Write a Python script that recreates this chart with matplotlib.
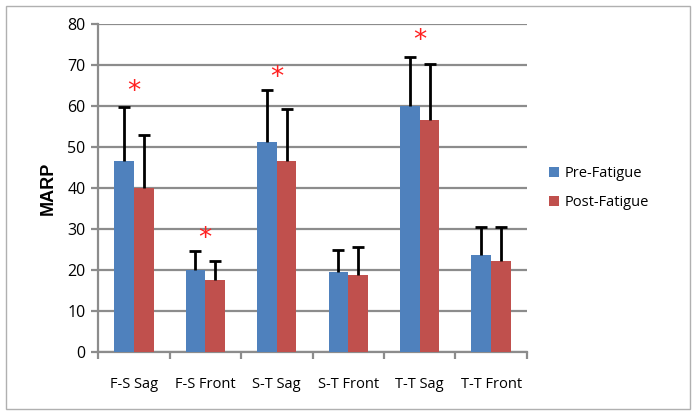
import numpy as np
import matplotlib.pyplot as plt
from matplotlib.patches import Rectangle

categories = ["F-S Sag", "F-S Front", "S-T Sag", "S-T Front", "T-T Sag", "T-T Front"]
pre_fatigue = [46.7, 20.0, 51.3, 19.5, 60.0, 23.7]
post_fatigue = [40.0, 17.5, 46.7, 18.8, 56.5, 22.3]
pre_err = [13.0, 4.7, 12.7, 5.5, 12.0, 6.8]
post_err = [13.0, 4.7, 12.6, 6.9, 13.8, 8.2]
# significance markers: (category index, height)
stars = [(0, 63.5), (1, 27.5), (2, 66.8), (4, 75.8)]

plt.rcParams['font.family'] = ['Open Sans', 'DejaVu Sans']

fig = plt.figure(figsize=(6.96, 4.17), dpi=100)
ax = fig.add_axes([0.141, 0.156, 0.616, 0.786])

x = np.arange(len(categories))
w = 0.275
grid_c = '#8c8c8c'

ax.bar(x - w / 2, pre_fatigue, w, color='#4F81BD', label='Pre-Fatigue', zorder=3)
ax.bar(x + w / 2, post_fatigue, w, color='#C0504D', label='Post-Fatigue', zorder=3)

# upper-only error bars with a cap at the top
for xs, vals, errs in [(x - w / 2, pre_fatigue, pre_err), (x + w / 2, post_fatigue, post_err)]:
    tops = np.array(vals) + np.array(errs)
    ax.vlines(xs, vals, tops, color='black', linewidth=2, zorder=4)
    ax.plot(xs, tops, linestyle='none', marker='_', markersize=8,
            markeredgewidth=2, color='black', zorder=4)

for i, h in stars:
    ax.text(i, h, '*', color='#ff2020', fontsize=19, ha='center', va='center',
            family='DejaVu Sans', zorder=5)

ax.set_xlim(-0.5, len(categories) - 0.5)
ax.set_ylim(0, 80)
ax.set_yticks(np.arange(0, 81, 10))
ax.yaxis.grid(True, color=grid_c, linewidth=1.6, zorder=0)
ax.set_axisbelow(True)

ax.set_xticks(x)
ax.set_xticklabels(categories, fontsize=10.5)
ax.tick_params(axis='x', length=0, pad=18)
ax.set_xticks(np.arange(-0.5, len(categories)), minor=True)
ax.tick_params(axis='x', which='minor', length=5, width=1.6, color=grid_c)
ax.tick_params(axis='y', length=5, width=1.6, color=grid_c, labelsize=11.5, pad=4)

for s in ['top', 'right']:
    ax.spines[s].set_visible(False)
for s in ['left', 'bottom']:
    ax.spines[s].set_color(grid_c)
    ax.spines[s].set_linewidth(1.6)

ax.set_ylabel('MARP', fontsize=13, fontweight='bold', family='Liberation Sans', labelpad=8)

ax.legend(loc='center left', bbox_to_anchor=(1.02, 0.5), frameon=False,
          fontsize=10.5, handlelength=0.7, handleheight=0.7, labelspacing=1.0,
          handletextpad=0.4)

fig.patches.append(Rectangle((0.008, 0.02), 0.983, 0.965, transform=fig.transFigure,
                             fill=False, edgecolor='#b0b0b0', linewidth=1))

fig.savefig('out.png', dpi=100)
